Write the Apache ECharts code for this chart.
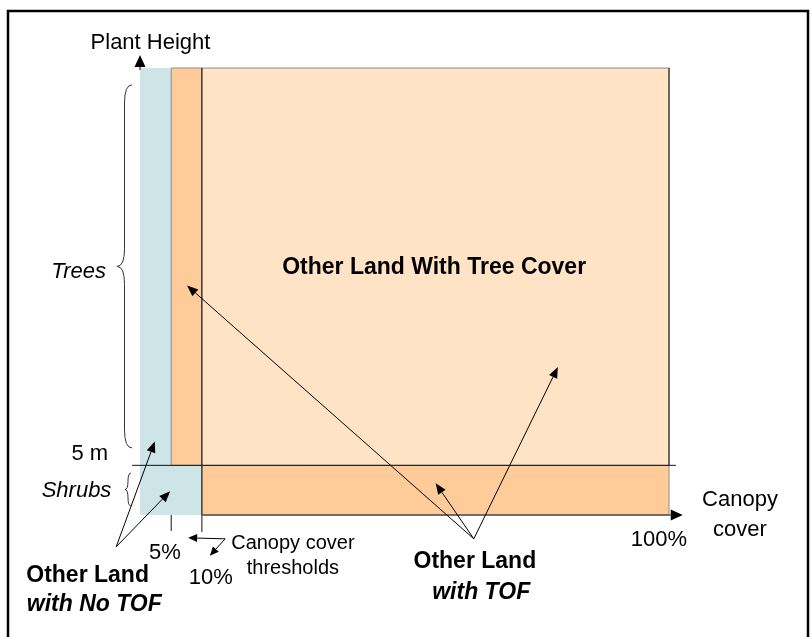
<!DOCTYPE html>
<html>
<head>
<meta charset="utf-8">
<script src="https://cdn.jsdelivr.net/npm/echarts@6/dist/echarts.min.js"></script>
<style>
  html, body { margin: 0; padding: 0; background: #fff; }
  #chart { width: 812px; height: 637px; }
</style>
</head>
<body>
<div id="chart"></div>
<script>
// === Schematic axes (diagram is not to scale) === //
const xMax = 100 // canopy cover, drawn units
const yMax = 45 // plant height, drawn units
const tickLabels = ['5%', '10%', '100%']
const tickLabelPos = [[4.7, -3.8], [13.4, -6.3], [98.1, -2.5]]

// === Land classes === [x0, x1, y0, y1, class]
const regions = [
  [0, 5.9, 0, 45, 'noTof'],
  [0, 11.7, 0, 5, 'noTof'],
  [5.9, 11.7, 5, 45, 'tof'],
  [11.7, 100, 0, 5, 'tof'],
  [11.7, 100, 5, 45, 'tree']
]

// === Guide lines === [x0, y0, x1, y1]
const guides = [
  [-1.5, 5, 101.3, 5], // 5 m threshold
  [11.7, 45, 11.7, -1.7], // 10% threshold
  [5.9, 0, 5.9, -1.6], // 5% tick
  [100, 45, 100, 5]
]

// === Arrows === [fromX, fromY, toX, toY, kind]
const arrows = [
  [0, 44.8, 0, 46.3, 'axis'],
  [11.7, 0, 102.6, 0, 'axis'],
  [63.1, -2.4, 8.9, 23.1, 'pointer'],
  [63.1, -2.4, 79.0, 14.9, 'pointer'],
  [63.1, -2.4, 55.9, 3.2, 'pointer'],
  [-4.5, -3.2, 2.8, 7.4, 'pointer'],
  [-4.5, -3.2, 5.7, 2.4, 'pointer'],
  [16.1, -2.4, 9.1, -2.3, 'small'],
  [16.1, -2.4, 13.2, -4.1, 'small']
]

// === Braces === [x, yTop, yBottom, xTip]
const braces = [
  [-1.5, 43.3, 6.75, -4.35], // trees
  [-1.7, 4.23, 0.91, -2.84] // shrubs
]

// === Labels === [x, y, text, style]
const labels = [
  [-11.6, 24.5, 'Trees', 'italic'],
  [-9.5, 6.1, '5 m', 'plain'],
  [-12.0, 2.4, 'Shrubs', 'italic'],
  [28.9, -4.1, 'Canopy cover\nthresholds', 'small'],
  [55.6, 24.9, 'Other Land With Tree Cover', 'bold'],
  [-21.5, -6.1, 'Other Land', 'boldLeft'],
  [-21.4, -9.0, 'with No TOF', 'boldItalicLeft'],
  [63.3, -4.7, 'Other Land', 'bold'],
  [64.5, -7.8, 'with TOF', 'boldItalic']
].concat(tickLabels.map((t, i) => [tickLabelPos[i][0], tickLabelPos[i][1], t, 'plain']))

const FONT = '"Liberation Sans", Arial, sans-serif'
const fills = { noTof: '#cde5e7', tof: '#ffcc99', tree: '#ffe3c4' }
const strokes = { noTof: null, tof: '#8c8c8c', tree: '#8c8c8c' }
const fonts = {
  plain: { font: '22px ' + FONT, align: 'center' },
  italic: { font: 'italic 22px ' + FONT, align: 'center' },
  small: { font: '20px ' + FONT, align: 'center' },
  bold: { font: 'bold 23px ' + FONT, align: 'center' },
  boldItalic: { font: 'italic bold 23px ' + FONT, align: 'center' },
  boldLeft: { font: 'bold 23px ' + FONT, align: 'left' },
  boldItalicLeft: { font: 'italic bold 23px ' + FONT, align: 'left' }
}
const heads = {
  axis: { len: 12, half: 5.5, color: '#000' },
  pointer: { len: 11, half: 4.5, color: '#000' },
  small: { len: 9, half: 4, color: '#000' }
}

const chart = echarts.init(document.getElementById('chart'))

const renderRegion = (params, api) => {
  const [x0, x1, y0, y1, kind] = regions[params.dataIndex]
  const a = api.coord([x0, y1])
  const b = api.coord([x1, y0])
  return {
    type: 'rect',
    shape: { x: a[0], y: a[1], width: b[0] - a[0], height: b[1] - a[1] },
    style: { fill: fills[kind], stroke: strokes[kind], lineWidth: 1 }
  }
}

const renderGuide = (params, api) => {
  const [x0, y0, x1, y1] = guides[params.dataIndex]
  const a = api.coord([x0, y0])
  const b = api.coord([x1, y1])
  return {
    type: 'line',
    shape: { x1: a[0], y1: a[1], x2: b[0], y2: b[1] },
    style: { stroke: '#111', lineWidth: 1 }
  }
}

const renderArrow = (params, api) => {
  const [x0, y0, x1, y1, kind] = arrows[params.dataIndex]
  const h = heads[kind]
  const p0 = api.coord([x0, y0])
  const p1 = api.coord([x1, y1])
  const ang = Math.atan2(p1[1] - p0[1], p1[0] - p0[0])
  const bx = p1[0] - h.len * Math.cos(ang)
  const by = p1[1] - h.len * Math.sin(ang)
  const nx = -Math.sin(ang) * h.half
  const ny = Math.cos(ang) * h.half
  return {
    type: 'group',
    children: [
      {
        type: 'line',
        shape: { x1: p0[0], y1: p0[1], x2: bx, y2: by },
        style: { stroke: kind === 'axis' ? '#555' : '#000', lineWidth: kind === 'axis' ? 1.5 : 1 }
      },
      {
        type: 'polygon',
        shape: { points: [p1, [bx + nx, by + ny], [bx - nx, by - ny]] },
        style: { fill: h.color }
      }
    ]
  }
}

const renderBrace = (params, api) => {
  const [x, yTop, yBottom, xTip] = braces[params.dataIndex]
  const top = api.coord([x, yTop])
  const bot = api.coord([x, yBottom])
  const tip = api.coord([xTip, (yTop + yBottom) / 2])
  const xr = top[0]
  const xt = tip[0]
  const xm = (xr + xt) / 2
  const yt = top[1]
  const yb = bot[1]
  const ym = tip[1]
  const r = Math.min(18, (yb - yt) / 4)
  const d = `M${xr},${yt} Q${xm},${yt} ${xm},${yt + r} L${xm},${ym - r} Q${xm},${ym} ${xt},${ym} ` +
    `Q${xm},${ym} ${xm},${ym + r} L${xm},${yb - r} Q${xm},${yb} ${xr},${yb}`
  return {
    type: 'path',
    shape: { pathData: d },
    style: { fill: null, stroke: '#333', lineWidth: 1 }
  }
}

const renderLabel = (params, api) => {
  const [x, y, text, style] = labels[params.dataIndex]
  const p = api.coord([x, y])
  const f = fonts[style]
  return {
    type: 'text',
    x: p[0],
    y: p[1],
    style: {
      text,
      font: f.font,
      fill: '#000',
      align: f.align,
      verticalAlign: 'middle',
      lineHeight: 25
    }
  }
}

const hiddenAxis = {
  type: 'value',
  axisLine: { show: false },
  axisTick: { show: false },
  axisLabel: { show: false },
  splitLine: { show: false }
}

chart.setOption({
  animation: false,
  grid: { left: 140, right: 143, top: 68, bottom: 122 },
  xAxis: {
    ...hiddenAxis,
    min: 0,
    max: xMax,
    name: 'Canopy\ncover',
    nameLocation: 'end',
    nameGap: 71,
    nameTextStyle: { fontFamily: FONT, fontSize: 22, color: '#000', align: 'center', lineHeight: 30, padding: [6, 0, 0, 0] }
  },
  yAxis: {
    ...hiddenAxis,
    min: 0,
    max: yMax,
    name: 'Plant Height',
    nameLocation: 'end',
    nameGap: 14,
    nameTextStyle: { fontFamily: FONT, fontSize: 22, color: '#000', padding: [0, 0, 0, 21] }
  },
  graphic: [
    {
      type: 'rect',
      shape: { x: 8, y: 11, width: 800, height: 700 },
      style: { fill: null, stroke: '#000', lineWidth: 2.5 },
      silent: true
    }
  ],
  series: [
    { type: 'custom', z: 1, renderItem: renderRegion, data: regions.map(r => [r[0], r[2]]) },
    { type: 'custom', z: 2, renderItem: renderGuide, data: guides.map(g => [g[0], g[1]]) },
    { type: 'custom', z: 3, renderItem: renderArrow, data: arrows.map(a => [a[0], a[1]]) },
    { type: 'custom', z: 3, renderItem: renderBrace, data: braces.map(b => [b[0], b[1]]) },
    { type: 'custom', z: 4, renderItem: renderLabel, data: labels.map(l => [l[0], l[1]]) }
  ]
})
</script>
</body>
</html>
